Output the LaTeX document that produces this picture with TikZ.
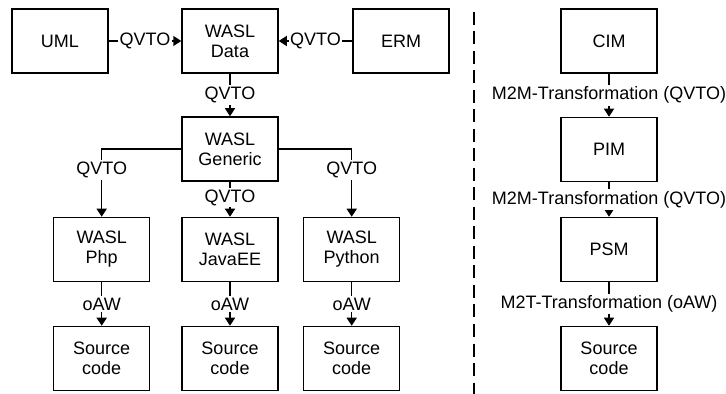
\documentclass[tikz,border=0pt]{standalone}
\usepackage{fontspec}
\setmainfont{Liberation Sans}
\usetikzlibrary{arrows.meta}
\begin{document}
\begin{tikzpicture}[x=0.5pt,y=-0.5pt,
  box/.style={draw, line width=0.75pt, minimum width=48pt, minimum height=32pt, inner sep=0pt, align=center, font=\fontsize{9}{10}\selectfont},
  conn/.style={draw, line width=0.75pt, -{Triangle[length=4pt,width=5pt]}},
  lab/.style={fill=white, inner xsep=0.6pt, inner ysep=1pt, font=\fontsize{9}{10}\selectfont},
  sep/.style={line width=0.9pt, dash pattern=on 6.5pt off 3.25pt}]
\useasboundingbox (0,0) rectangle (726,394);
% left part
\node[box] (uml) at (60,41) {UML};
\node[box] (data) at (230,41) {WASL\\Data};
\node[box] (erm) at (401,41) {ERM};
\node[box] (gen) at (230,149) {WASL\\Generic};
\node[box] (php) at (101.7,249.5) {WASL\\Php};
\node[box] (java) at (230,249.5) {WASL\\JavaEE};
\node[box] (py) at (351.7,249.5) {WASL\\Python};
\node[box] (src1) at (101.7,358.5) {Source\\code};
\node[box] (src2) at (230,358.5) {Source\\code};
\node[box] (src3) at (351.7,358.5) {Source\\code};
\draw[conn] (uml) -- (data) node[lab,midway] {QVTO};
\draw[conn] (erm) -- (data) node[lab,midway] {QVTO};
\draw[conn] (data) -- (gen) node[lab,midway] {QVTO};
\draw[conn] (gen.west) -| (php.north) node[lab,pos=0.655] {QVTO};
\draw[conn] (gen.east) -| (py.north) node[lab,pos=0.655] {QVTO};
\draw[conn] (gen) -- (java) node[lab,pos=0.45] {QVTO};
\draw[conn] (php) -- (src1) node[lab,midway] {oAW};
\draw[conn] (java) -- (src2) node[lab,midway] {oAW};
\draw[conn] (py) -- (src3) node[lab,midway] {oAW};
% separator
\coordinate (septop) at (474,12);
\coordinate (sepbot) at (474,394);
\draw[sep] (septop) -- (sepbot);
% right part
\node[box] (cim) at (609,41) {CIM};
\node[box] (pim) at (609,149.5) {PIM};
\node[box] (psm) at (609,249.5) {PSM};
\node[box] (src4) at (609,358.5) {Source\\code};
\draw[conn] (cim) -- (pim) node[lab,midway] {M2M-Transformation (QVTO)};
\draw[conn] (pim) -- (psm) node[lab,midway] {M2M-Transformation (QVTO)};
\draw[conn] (psm) -- (src4) node[lab,midway] {M2T-Transformation (oAW)};
\end{tikzpicture}
\end{document}
